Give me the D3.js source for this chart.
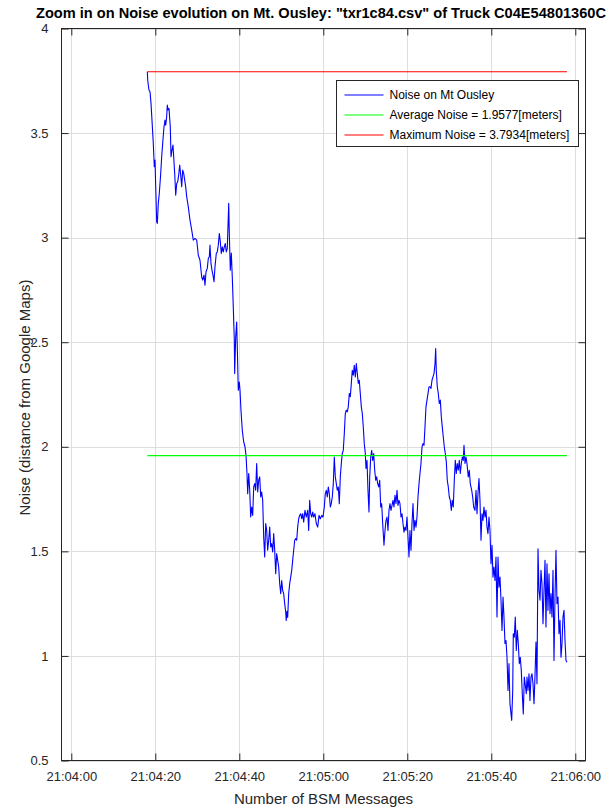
<!DOCTYPE html>
<html>
<head>
<meta charset="utf-8">
<script src="https://cdn.jsdelivr.net/npm/d3@7"></script>
<style>
  body { margin: 0; background: #fff; }
  svg { display: block; }
  text { font-family: "Liberation Sans", Arial, Helvetica, sans-serif; }
</style>
</head>
<body>
<svg id="chart" width="611" height="808"></svg>
<script>
// ---- chart text ----
const titleText = 'Zoom in on Noise evolution on Mt. Ousley: "txr1c84.csv" of Truck C04E54801360C';
const xLabelText = "Number of BSM Messages";
const yLabelText = "Noise (distance from Google Maps)";
const seriesNames = ["Noise on Mt Ousley", "Average Noise = 1.9577[meters]", "Maximum Noise = 3.7934[meters]"];

// ---- ticks ----
const xTickLabels = ["21:04:00", "21:04:20", "21:04:40", "21:05:00", "21:05:20", "21:05:40", "21:06:00"];
const yTickValues = [0.5, 1, 1.5, 2, 2.5, 3, 3.5, 4];

// ---- summary values ----
const averageNoise = 1.9577;
const maximumNoise = 3.7934;

// ---- series: seconds after 21:04:00 and noise in meters ----
const secs = [
  18.10,18.20,18.33,18.50,18.74,18.98,19.21,19.52,19.76,19.93,20.10,20.33,20.48,20.71,20.95,21.29,21.52,21.76,22.07,22.31,
  22.48,22.71,22.86,23.02,23.26,23.43,23.57,23.74,23.98,24.21,24.38,24.62,24.86,25.10,25.33,25.57,25.81,26.05,26.29,26.52,
  26.76,27.00,27.24,27.48,27.86,28.26,28.67,29.05,29.45,29.86,30.24,30.64,31.05,31.29,31.60,31.83,32.07,32.38,32.62,32.86,
  33.02,33.26,33.50,33.74,33.98,34.21,34.52,34.76,35.00,35.24,35.48,35.71,35.95,36.19,36.43,36.67,36.90,37.14,37.48,37.62,
  37.86,38.10,38.33,38.57,38.81,38.90,39.14,39.38,39.52,39.76,40.00,40.17,40.40,40.71,41.05,41.36,41.60,41.83,42.00,42.24,
  42.48,42.71,42.95,43.19,43.43,43.67,43.90,44.14,44.38,44.62,44.86,45.10,45.33,45.57,45.81,46.05,46.29,46.52,46.76,47.00,
  47.24,47.48,47.71,47.95,48.19,48.43,48.67,48.90,49.14,49.38,49.62,49.86,50.10,50.33,50.57,50.81,51.05,51.17,51.36,51.52,
  51.76,52.00,52.24,52.48,52.71,52.95,53.19,53.43,53.67,53.90,54.14,54.38,54.62,54.86,55.10,55.33,55.64,55.95,56.29,56.52,
  56.76,57.00,57.24,57.48,57.71,58.02,58.33,58.67,58.98,59.29,59.62,59.93,60.24,60.48,60.71,60.95,61.19,61.43,61.67,61.90,
  62.14,62.38,62.62,62.86,63.10,63.33,63.57,63.81,64.05,64.29,64.52,64.76,65.00,65.24,65.48,65.71,65.95,66.19,66.43,66.67,
  66.90,67.14,67.38,67.62,67.86,68.10,68.33,68.57,68.81,69.05,69.29,69.52,69.76,70.00,70.17,70.40,70.64,70.88,71.05,71.29,
  71.52,71.76,72.00,72.24,72.48,72.71,72.95,73.19,73.43,73.67,73.90,74.14,74.45,74.69,74.93,75.17,75.40,75.64,75.88,76.12,
  76.36,76.60,76.83,77.07,77.31,77.55,77.79,78.02,78.26,78.50,78.74,78.98,79.21,79.45,79.69,79.93,80.17,80.40,80.64,80.88,
  81.12,81.36,81.60,81.83,82.07,82.31,82.55,82.79,83.02,83.26,83.50,83.74,83.98,84.21,84.45,84.69,84.93,85.17,85.40,85.64,
  85.88,86.12,86.36,86.60,86.76,86.90,87.14,87.38,87.62,87.86,88.10,88.33,88.57,88.81,89.05,89.29,89.52,89.76,90.00,90.24,
  90.48,90.71,90.95,91.19,91.43,91.67,91.90,92.14,92.38,92.62,92.86,93.10,93.33,93.50,93.74,93.98,94.21,94.52,94.76,95.00,
  95.33,95.57,95.81,96.12,96.36,96.60,96.83,97.07,97.31,97.55,97.79,98.02,98.26,98.50,98.74,98.98,99.21,99.45,99.69,99.93,
  100.17,100.40,100.64,100.88,101.12,101.36,101.60,101.83,102.07,102.31,102.55,102.79,103.02,103.26,103.50,103.74,103.98,104.21,104.45,104.86,
  105.10,105.24,105.48,105.71,105.95,106.19,106.43,106.67,106.90,107.14,107.38,107.62,107.86,108.10,108.33,108.50,108.74,108.98,109.21,109.45,
  109.69,109.93,110.17,110.40,110.64,110.88,111.12,111.36,111.60,111.83,112.07,112.31,112.55,112.79,113.02,113.26,113.50,113.74,113.98,114.21,
  114.45,114.69,114.93,115.17,115.40,115.64,115.88,116.12,116.36,116.60,116.83,117.07,117.31,117.55,117.79,118.02
];
const noise = [
  3.7934,3.754,3.730,3.706,3.698,3.642,3.562,3.451,3.339,3.371,3.243,3.076,3.068,3.164,3.211,3.307,3.387,3.451,3.530,3.562,
  3.538,3.578,3.634,3.610,3.618,3.570,3.530,3.387,3.419,3.443,3.387,3.307,3.203,3.259,3.267,3.299,3.347,3.299,3.243,3.323,
  3.307,3.275,3.243,3.195,3.147,3.084,3.036,2.988,2.996,2.988,2.916,2.892,2.812,2.797,2.821,2.773,2.836,2.853,2.900,2.908,
  2.964,2.877,2.844,2.821,2.789,2.860,2.924,2.932,2.964,3.020,2.980,2.924,2.956,2.932,2.956,2.972,2.932,2.948,3.164,3.020,
  2.844,2.926,2.812,2.669,2.510,2.350,2.525,2.597,2.478,2.270,2.310,2.270,2.175,2.079,2.023,1.999,1.959,1.872,1.776,1.872,
  1.792,1.664,1.712,1.672,1.808,1.824,1.792,1.920,1.784,1.840,1.856,1.760,1.784,1.744,1.568,1.473,1.633,1.600,1.505,1.553,
  1.616,1.521,1.537,1.497,1.585,1.505,1.393,1.489,1.457,1.425,1.345,1.298,1.361,1.313,1.298,1.250,1.210,1.170,1.213,1.184,
  1.298,1.345,1.377,1.409,1.457,1.505,1.553,1.561,1.553,1.616,1.656,1.672,1.680,1.656,1.680,1.640,1.696,1.664,1.696,1.600,
  1.744,1.680,1.664,1.688,1.664,1.680,1.633,1.616,1.672,1.656,1.672,1.664,1.712,1.776,1.792,1.760,1.808,1.776,1.712,1.728,
  1.760,1.824,1.951,1.856,1.824,1.792,1.808,1.728,1.856,1.920,1.968,1.983,2.063,2.159,2.175,2.167,2.191,2.255,2.239,2.303,
  2.366,2.342,2.390,2.334,2.398,2.350,2.303,2.318,2.255,2.191,2.159,2.095,2.015,1.968,1.896,1.935,1.792,1.688,1.856,1.951,
  1.983,1.935,1.968,1.888,1.840,1.856,1.824,1.808,1.840,1.712,1.728,1.633,1.529,1.600,1.648,1.664,1.600,1.696,1.728,1.696,
  1.720,1.744,1.712,1.768,1.728,1.792,1.720,1.744,1.728,1.664,1.680,1.633,1.592,1.616,1.600,1.664,1.568,1.473,1.600,1.505,
  1.633,1.728,1.600,1.648,1.616,1.664,1.760,1.824,1.872,1.920,1.999,2.015,2.007,2.095,2.191,2.223,2.255,2.287,2.287,2.279,
  2.318,2.334,2.350,2.398,2.470,2.366,2.287,2.255,2.207,2.223,2.143,2.095,2.047,1.999,1.968,1.928,1.840,1.808,1.760,1.744,
  1.696,1.744,1.712,1.840,1.935,1.872,1.920,1.888,1.935,1.872,1.920,1.951,1.935,2.007,1.920,1.951,1.920,1.856,1.888,1.824,
  1.792,1.760,1.712,1.696,1.792,1.680,1.776,1.848,1.744,1.553,1.680,1.648,1.712,1.664,1.696,1.616,1.585,1.664,1.600,1.441,
  1.529,1.377,1.425,1.361,1.473,1.186,1.473,1.329,1.377,1.266,1.122,1.282,1.186,1.059,1.074,0.994,0.835,0.963,0.771,0.692,
  0.835,1.106,1.090,1.186,1.026,1.122,1.059,0.963,0.994,0.931,0.819,0.723,0.899,0.860,0.819,0.899,0.835,0.915,0.787,0.899,
  0.915,0.867,0.771,0.899,1.066,0.867,1.512,1.313,1.266,1.409,1.345,1.154,1.313,1.457,1.138,1.441,1.218,1.393,1.202,1.298,
  1.186,1.409,0.978,1.282,1.505,1.250,1.282,1.106,1.170,0.994,1.058,1.186,1.218,1.074,0.978,0.970
];

// ---- layout ----
const axisColor = "#262626";
const gridColor = "#dedede";
const plot = { left: 61.5, right: 585.5, top: 28.5, bottom: 760.5 };
const tickLen = 7;

const svg = d3.select("#chart");
const base = new Date(2020, 0, 1, 21, 4, 0);
const at = s => new Date(base.getTime() + s * 1000);
const parseTick = d3.timeParse("%H:%M:%S");
const fmtTick = d3.timeFormat("%H:%M:%S");
const xTickDates = xTickLabels.map(l => {
  const p = parseTick(l);
  return new Date(2020, 0, 1, p.getHours(), p.getMinutes(), p.getSeconds());
});

const x = d3.scaleTime()
  .domain([at(-2.333), at(122.43)])
  .range([plot.left, plot.right]);
const y = d3.scaleLinear()
  .domain([0.5, 4])
  .range([plot.bottom, plot.top]);

const data = secs.map((s, i) => ({ t: at(s), v: noise[i] }));
const tStart = at(d3.min(secs)), tEnd = at(d3.max(secs));

// grid
const grid = svg.append("g");
grid.selectAll("line.gx").data(xTickDates).join("line")
  .attr("x1", d => Math.round(x(d)) + 0.5).attr("x2", d => Math.round(x(d)) + 0.5)
  .attr("y1", plot.top).attr("y2", plot.bottom)
  .attr("stroke", gridColor).attr("stroke-width", 1);
grid.selectAll("line.gy").data(yTickValues).join("line")
  .attr("y1", d => Math.round(y(d)) + 0.5).attr("y2", d => Math.round(y(d)) + 0.5)
  .attr("x1", plot.left).attr("x2", plot.right)
  .attr("stroke", gridColor).attr("stroke-width", 1);

// series
const line = d3.line().x(d => x(d.t)).y(d => y(d.v));
svg.append("path").datum(data)
  .attr("fill", "none").attr("stroke", "#0000ff").attr("stroke-width", 1.1)
  .attr("stroke-linejoin", "round")
  .attr("d", line);

svg.append("line")
  .attr("x1", x(tStart)).attr("x2", x(tEnd))
  .attr("y1", y(averageNoise)).attr("y2", y(averageNoise))
  .attr("stroke", "#00ff00").attr("stroke-width", 1.1);
svg.append("line")
  .attr("x1", x(tStart)).attr("x2", x(tEnd))
  .attr("y1", y(maximumNoise)).attr("y2", y(maximumNoise))
  .attr("stroke", "#ff0000").attr("stroke-width", 1.1);

// axes (box on, ticks inward)
const xAxisB = d3.axisBottom(x).tickValues(xTickDates).tickFormat(fmtTick).tickSizeInner(-tickLen).tickSizeOuter(0).tickPadding(11);
const xAxisT = d3.axisTop(x).tickValues(xTickDates).tickFormat("").tickSizeInner(-tickLen).tickSizeOuter(0);
const yAxisL = d3.axisLeft(y).tickValues(yTickValues).tickFormat(d3.format("~g")).tickSizeInner(-tickLen).tickSizeOuter(0).tickPadding(13);
const yAxisR = d3.axisRight(y).tickValues(yTickValues).tickFormat("").tickSizeInner(-tickLen).tickSizeOuter(0);

function styleAxis(g) {
  g.select(".domain").remove();
  g.selectAll(".tick line").attr("stroke", axisColor);
  g.selectAll(".tick text").attr("fill", axisColor).attr("font-size", 13)
    .attr("font-family", '"Liberation Sans", Arial, sans-serif');
}
svg.append("g").attr("transform", `translate(0,${plot.bottom})`).call(xAxisB).call(styleAxis);
svg.append("g").attr("transform", `translate(0,${plot.top})`).call(xAxisT).call(styleAxis);
svg.append("g").attr("transform", `translate(${plot.left},0)`).call(yAxisL).call(styleAxis);
svg.append("g").attr("transform", `translate(${plot.right},0)`).call(yAxisR).call(styleAxis);

svg.append("rect")
  .attr("x", plot.left).attr("y", plot.top)
  .attr("width", plot.right - plot.left).attr("height", plot.bottom - plot.top)
  .attr("fill", "none").attr("stroke", axisColor).attr("stroke-width", 1);

// title and axis labels
svg.append("text")
  .attr("x", 321).attr("y", 18).attr("text-anchor", "middle")
  .attr("font-size", 14).attr("font-weight", "bold").attr("fill", "#000")
  .attr("textLength", 570).attr("lengthAdjust", "spacingAndGlyphs")
  .text(titleText);
svg.append("text")
  .attr("x", 323.5).attr("y", 804).attr("text-anchor", "middle")
  .attr("font-size", 15).attr("fill", axisColor)
  .text(xLabelText);
svg.append("text")
  .attr("transform", `translate(30,${(plot.top + plot.bottom) / 2 + 3}) rotate(-90)`)
  .attr("text-anchor", "middle")
  .attr("font-size", 15).attr("fill", axisColor)
  .text(yLabelText);

// legend
const legend = svg.append("g").attr("transform", "translate(336.5,80.5)");
legend.append("rect").attr("width", 242).attr("height", 66)
  .attr("fill", "#fff").attr("stroke", axisColor).attr("stroke-width", 1);
const legendColors = ["#0000ff", "#00ff00", "#ff0000"];
seriesNames.forEach((name, i) => {
  const cy = 14.5 + i * 20;
  legend.append("line").attr("x1", 8).attr("x2", 47).attr("y1", cy).attr("y2", cy)
    .attr("stroke", legendColors[i]).attr("stroke-width", 1.1);
  legend.append("text").attr("x", 53).attr("y", cy).attr("dy", "0.35em")
    .attr("font-size", 12).attr("fill", "#000").text(name);
});
</script>
</body>
</html>
